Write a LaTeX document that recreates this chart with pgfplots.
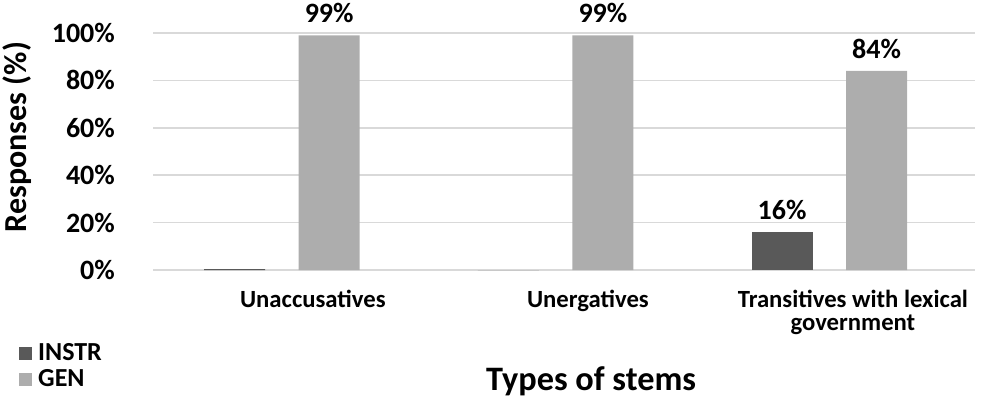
\documentclass[border=0pt]{standalone}
\usepackage{pgfplots}
\pgfplotsset{compat=1.18}
\usepackage{fontspec}
\setmainfont{Carlito}
\definecolor{instr}{HTML}{595959}
\definecolor{gen}{HTML}{ADADAD}
\definecolor{gridc}{HTML}{D9D9D9}
\begin{document}
\begin{tikzpicture}
\path[use as bounding box] (0,0) rectangle (981bp,400bp);
\begin{axis}[
  at={(153bp,130bp)}, anchor=south west,
  scale only axis, width=822bp, height=237bp,
  xmin=-0.471, xmax=2.532, ymin=0, ymax=100,
  ybar, bar width=61bp, bar shift=0pt,
  axis line style={draw=none},
  major tick length=0pt,
  ymajorgrids, grid style={gridc, line width=1.6bp},
  ytick={0,20,40,60,80,100},
  yticklabels={0\%,20\%,40\%,60\%,80\%,100\%},
  yticklabel style={anchor=east, inner sep=0pt, xshift=-38bp, font=\fontsize{28bp}{30bp}\selectfont\bfseries},
  xtick={0.113,1.118,2.086},
  xticklabels={Unaccusatives,Unergatives,{Transitives with lexical\\government}},
  xticklabel style={anchor=north, inner sep=0pt, yshift=-20bp, align=center, font=\fontsize{24.7bp}{23bp}\selectfont\bfseries},
  xlabel={Types of stems},
  xlabel style={at={(axis description cs:0.533,-0.468)}, anchor=center, font=\fontsize{34.3bp}{35bp}\selectfont\bfseries},
  ylabel={Responses (\%)},
  ylabel style={at={(axis description cs:-0.165,0.561)}, anchor=center, rotate=0, font=\fontsize{32bp}{34bp}\selectfont\bfseries},
  clip=false,
  legend style={at={(-0.163,-0.297)}, anchor=north west, draw=none, fill=none,
    font=\fontsize{26bp}{27bp}\selectfont\bfseries, row sep=0bp, inner sep=0pt,
    nodes={inner xsep=6bp, inner ysep=2bp, text height=18bp, text depth=4bp}},
  legend cell align=left,
  legend image code/.code={\fill (0bp,-6bp) rectangle (13bp,7bp);},
  nodes near coords style={font=\fontsize{28bp}{28bp}\selectfont\bfseries, inner sep=0pt, yshift=12bp, anchor=south},
]
\addplot[fill=instr, draw=none] coordinates {(-0.1726,0.4) (0.8274,0)};
\addlegendentry{INSTR}
\addplot[fill=gen, draw=none, nodes near coords={\pgfmathprintnumber[assume math mode=true]{\pgfplotspointmeta}\%}] coordinates {(0.1726,99) (1.1726,99) (2.1726,84)};
\addlegendentry{GEN}
\addplot[fill=instr, draw=none, forget plot, nodes near coords={\pgfmathprintnumber[assume math mode=true]{\pgfplotspointmeta}\%}] coordinates {(1.8274,16)};
\end{axis}
\end{tikzpicture}
\end{document}
